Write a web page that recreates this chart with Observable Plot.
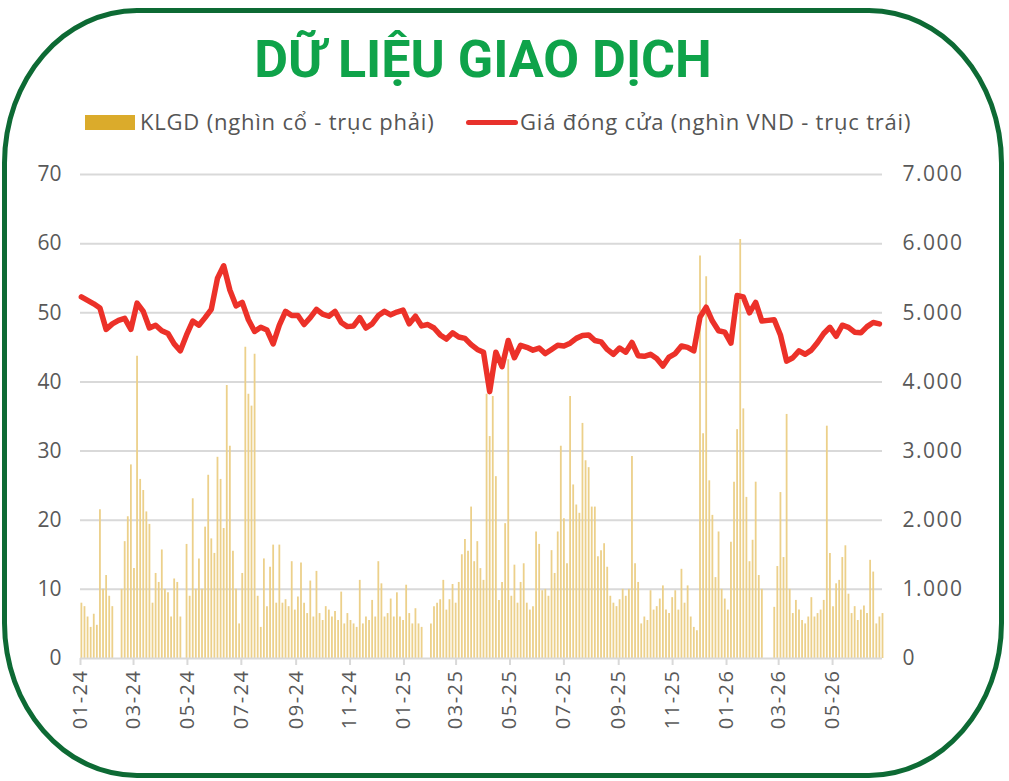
<!DOCTYPE html>
<html>
<head>
<meta charset="utf-8">
<script src="https://cdn.jsdelivr.net/npm/d3@7"></script>
<script src="https://cdn.jsdelivr.net/npm/@observablehq/plot@0.6"></script>
<style>
  html, body { margin: 0; padding: 0; background: #fff; }
  #wrap { position: relative; width: 1009px; height: 781px; overflow: hidden; font-family: "Open Sans", "Roboto", sans-serif; }
  #frame { position: absolute; left: 2px; top: 8px; width: 1002px; height: 770px; box-sizing: border-box;
           border: 5px solid #0d6a34; border-radius: 135px / 155px; pointer-events: none; }
  #header { position: relative; height: 150px; }
  #title { position: absolute; left: 0; width: 966px; top: 30px; text-align: center; font-weight: bold;
           font-family: "Roboto", sans-serif; font-size: 52px; color: #0fa34a; line-height: 60px; }
  .leg { position: absolute; top: 107px; font-size: 22px; color: #555; line-height: 28px; white-space: nowrap; letter-spacing: 0.8px; }
  .sw1 { position: absolute; left: 85px; top: 115px; width: 50px; height: 15px; background: #dbab2b; }
  .sw2 { position: absolute; left: 466px; top: 120px; width: 52px; height: 5px; background: #e8312c; border-radius: 3px; }
  #chart { position: relative; }
  #chart svg text { font-family: "Open Sans", "Roboto", sans-serif; }
</style>
</head>
<body>
<div id="wrap">
  <div id="header">
    <div id="title">DỮ LIỆU GIAO DỊCH</div>
    <div class="sw1"></div>
    <div class="leg" style="left:140px">KLGD (nghìn cổ - trục phải)</div>
    <div class="sw2"></div>
    <div class="leg" style="left:520px">Giá đóng cửa (nghìn VND - trục trái)</div>
  </div>
  <div id="chart"></div>
  <div id="frame"></div>
</div>
<script>
// Closing price (thousand VND), one reading per week starting 2024-01-02
const priceStart = "2024-01-02";
const priceStepDays = 7;
const price = [
  52.3,51.8,51.3,50.7,47.6,48.4,48.9,49.2,47.6,51.4,
  50.2,47.8,48.2,47.4,47.0,45.5,44.5,46.8,48.8,48.2,
  49.3,50.5,55.0,56.8,53.3,51.0,51.5,49.0,47.3,47.9,
  47.5,45.5,48.2,50.2,49.6,49.6,48.3,49.3,50.5,49.8,
  49.5,50.2,48.6,48.0,48.1,49.3,47.8,48.4,49.6,50.2,
  49.7,50.1,50.4,48.4,49.5,48.1,48.3,47.8,46.8,46.2,
  47.1,46.5,46.3,45.4,44.7,44.3,38.6,44.3,42.2,46.0,
  43.5,45.3,45.0,44.6,44.9,44.1,44.7,45.3,45.2,45.6,
  46.3,46.7,46.8,46.0,45.8,44.7,44.0,44.9,44.3,45.7,
  43.8,43.7,44.0,43.4,42.3,43.6,44.1,45.2,45.0,44.5,
  49.4,50.8,48.8,47.4,47.2,45.6,52.5,52.3,50.0,51.5,
  48.8,48.9,49.0,46.8,43.0,43.5,44.5,44.0,44.6,45.7,
  47.0,47.9,46.6,48.2,47.9,47.2,47.1,48.0,48.6,48.4
];
// Trading volume (thousand shares), two readings per week starting 2024-01-02
const volStart = "2024-01-02";
const volStepDays = 3.5;
const volume = [
  800,750,600,450,640,480,2150,1000,1200,900,
  750,0,0,1000,1690,2050,2800,1300,4370,2590,
  2430,2120,1940,800,1230,1100,1570,1000,950,600,
  1150,1100,600,0,1650,900,2310,1000,1440,1000,
  1900,2650,1730,1520,2910,2590,1880,3950,3070,1550,
  1000,500,1230,4500,3820,3650,4400,900,450,1440,
  750,1320,1640,800,1640,800,850,750,1400,700,
  890,1380,800,650,1120,600,1260,650,550,750,
  700,600,680,550,960,500,650,550,500,450,
  1130,500,600,550,840,600,1400,1080,600,650,
  860,600,950,600,550,1060,650,500,720,500,
  450,0,0,500,750,800,850,1130,700,850,
  1070,800,1100,1500,1720,1550,2190,1400,1690,1300,
  1130,3820,3210,3790,2630,840,1100,1950,4320,900,
  1350,800,1100,1370,800,700,750,1830,1650,980,
  1000,900,1560,1230,1830,3070,2020,1370,3790,2510,
  2220,2100,3400,2860,2760,2190,2190,1470,1560,1660,
  1320,900,800,750,850,1000,900,1000,2920,1370,
  1100,500,600,550,980,700,750,860,1050,700,
  650,880,980,700,1290,800,1050,600,450,400,
  5820,3250,5520,2570,2070,1170,1830,1000,860,700,
  1680,2550,3310,6060,3610,2330,1400,1710,2550,1200,
  1000,0,0,0,740,1330,2400,1460,3530,1000,
  650,840,700,550,500,600,880,600,650,700,
  840,3360,1520,750,1080,1130,1460,1630,930,650,
  750,550,700,760,650,1420,1250,500,600,650
];
const leftTicks = [0,10,20,30,40,50,60,70];
const xTickDates = ["2024-01-01","2024-03-01","2024-05-01","2024-07-01","2024-09-01","2024-11-01",
  "2025-01-01","2025-03-01","2025-05-01","2025-07-01","2025-09-01","2025-11-01",
  "2026-01-01","2026-03-01","2026-05-01"];
const xDomainStart = "2024-01-01";

const DAY = 86400000;
const p0 = new Date(priceStart + "T00:00:00Z").getTime();
const v0 = new Date(volStart + "T00:00:00Z").getTime();
const priceData = price.map((v, i) => ({date: new Date(p0 + i * priceStepDays * DAY), v}));
const volData = volume.map((v, i) => ({date: new Date(v0 + i * volStepDays * DAY), v}));
const xTicks = xTickDates.map(s => new Date(s + "T00:00:00Z"));
const fmtThousands = d => d3.format(",")(d).replace(/,/g, ".");
const fmtMonth = d3.utcFormat("%m-%y");

const chart = Plot.plot({
  width: 1009,
  height: 631,
  marginLeft: 80,
  marginRight: 127,
  marginTop: 24,
  marginBottom: 123,
  style: {fontFamily: '"Open Sans", "Roboto", sans-serif', color: "#595959", background: "transparent", overflow: "visible"},
  x: {type: "utc", domain: [new Date(xDomainStart + "T00:00:00Z"), volData[volData.length - 1].date]},
  y: {domain: [0, 70]},
  marks: [
    Plot.gridY(leftTicks.filter(d => d > 0), {stroke: "#d9d9d9", strokeOpacity: 1, strokeWidth: 2}),
    Plot.ruleX(volData, {x: "date", y1: 0, y2: d => d.v / 100, stroke: "#ecd08a", strokeWidth: 1.8}),
    Plot.ruleY([0], {stroke: "#d9d9d9", strokeWidth: 2}),
    Plot.line(priceData, {x: "date", y: "v", stroke: "#ec3129", strokeWidth: 5.5, strokeLinejoin: "round", strokeLinecap: "round"}),
    Plot.axisY({ticks: leftTicks, anchor: "left", tickSize: 0, tickPadding: 19, fontSize: 21, label: null}),
    Plot.axisY({ticks: leftTicks, anchor: "right", tickSize: 0, tickPadding: 20, fontSize: 21, label: null, tickFormat: d => fmtThousands(d * 100)}),
    Plot.axisX({ticks: xTicks, tickFormat: fmtMonth, tickRotate: -90, tickSize: 7, tickPadding: 4, stroke: "#d9d9d9", strokeWidth: 2, fontSize: 20, label: null})
  ]
});
document.getElementById("chart").appendChild(chart);
// Spread the right-axis and x-axis labels a little, as in the source lettering
const axisGroups = chart.querySelectorAll('g[aria-label="y-axis tick label"]');
if (axisGroups.length > 1) axisGroups[1].setAttribute("letter-spacing", "1.5");
const xLab = chart.querySelector('g[aria-label="x-axis tick label"]');
if (xLab) xLab.setAttribute("letter-spacing", "1.5");
</script>
</body>
</html>
